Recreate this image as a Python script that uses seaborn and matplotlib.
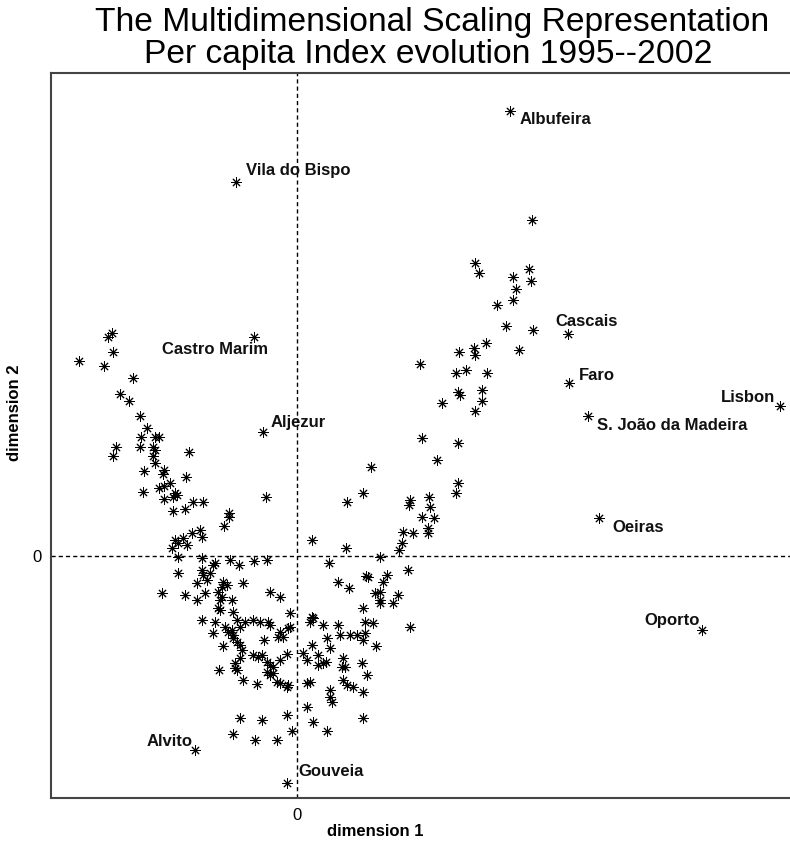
import matplotlib
matplotlib.use("Agg")
import matplotlib.pyplot as plt
import seaborn as sns
import pandas as pd

# ---------------- data (MDS coordinates) ----------------
dim1 = [
    -1.85, -1.89, -1.84, -2.18, -1.93, -1.64, -1.77, -1.68, -1.57, -1.50, -1.56, -1.42, -1.38,
    -1.81, -1.84, -1.57, -1.44, -1.42, -1.44, -1.42, -1.08, -1.53, -1.33, -1.34, -1.11, -1.54,
    -1.38, -1.33, -1.27, -1.22, -1.20, -1.24, -1.33, -1.04, -0.94, -1.24, -1.12, -0.68, -0.68,
    -0.73, -0.31, 0.15, -1.22, -1.14, -1.05, -0.97, -0.95, -1.10, -1.25, -1.19,
    -1.19, -0.95, -0.82, -0.84, -0.67, -0.58, -0.43, -0.30, -1.19, -0.95, -0.94, -0.87, -0.90,
    -1.00, -0.74, -0.70, -0.75, -0.54, -1.35, -1.12, -1.00, -0.92, -0.79, -0.75, -0.77, -0.65,
    -0.27, -0.17, -0.77, -0.79, -0.64, -0.95, -0.82, -0.72, -0.69, -0.65, -0.64, -0.60, -0.57,
    -0.52, -0.44, -0.37, -0.29, -0.27, -0.17, -0.19, -0.14, -0.07, -0.09, -0.07, -0.84, -0.74,
    -0.64, -0.60, -0.57, -0.55, -0.33, -0.44, -0.39, -0.35, -0.57, -0.62, -0.30, -0.27, -0.24,
    -0.17, -0.10, -0.78, -0.62, -0.60, -0.30, -0.27, -0.24, -0.54, -0.40, -0.20, -0.17, -0.10,
    -0.09, -0.57, -0.35, -0.10, -0.64, -0.42, -0.20, -0.05,
    0.49, 0.83, 1.02, 1.05, 0.32, 0.41, 0.52, 0.69, 0.71, 0.90, 0.86, 0.83, 0.78, 0.83, 0.83,
    1.01, 0.96, 1.11, 0.66, 0.15, 0.16, 0.13, 0.26, 0.41, 0.43, 0.30, 0.33, 0.53, 0.60, 0.68,
    0.76, 0.68, 0.66, 0.79, 1.13, 0.15, 0.06, 0.10, 0.21, 0.21, 0.26, 0.29, 0.46, 0.48, 0.45,
    0.65, 0.70, 0.46, 0.50, 0.56, 0.66, 0.33, 0.33, 0.35, 0.10, 0.13, 0.10, 0.16, 0.30, 0.66,
    2.35, 1.78, 1.82, 2.32, 2.34, 2.16, 2.19, 2.16, 2.00, 2.09, 2.36, 1.89, 1.77, 1.78, 1.62,
    2.22, 1.23, 1.59, 1.69, 1.90, 1.61, 1.63, 1.85, 1.85, 1.78, 1.45, 1.25, 1.61, 1.40, 1.61,
    1.59, 1.13, 1.12, 1.32, 1.33, 1.25, 1.37, 1.31, 1.31, 1.06, 1.16, 0.74, 0.66, 0.50,
]
dim2 = [
    2.23, 2.19, 2.04, 1.95, 1.90, 1.78, 1.62, 1.55, 1.40, 1.28, 1.19, 1.19, 1.19,
    1.09, 1.00, 1.09, 1.09, 1.06, 1.00, 0.93, 1.04, 0.85, 0.86, 0.82, 0.79, 0.64,
    0.68, 0.70, 0.73, 0.63, 0.61, 0.59, 0.57, 0.54, 0.54, 0.45, 0.47, 0.43, 0.39,
    0.30, 0.59, 0.16, 0.16, 0.18, 0.23, 0.26, 0.19, 0.11, 0.08, 0.13,
    -0.01, -0.02, -0.07, -0.09, -0.04, -0.09, -0.05, -0.04, -0.17, -0.14, -0.19, -0.17, -0.24,
    -0.27, -0.26, -0.29, -0.31, -0.27, -0.37, -0.39, -0.44, -0.37, -0.36, -0.41, -0.44, -0.44,
    -0.36, -0.41, -0.54, -0.52, -0.56, -0.64, -0.66, -0.71, -0.76, -0.74, -0.79, -0.64, -0.71,
    -0.66, -0.64, -0.66, -0.66, -0.69, -0.76, -0.81, -0.81, -0.57, -0.72, -0.71, -0.77, -0.90,
    -0.82, -0.86, -0.89, -0.94, -0.84, -0.99, -1.01, -0.99, -1.02, -1.07, -1.06, -1.09, -1.11,
    -1.04, -0.98, -1.14, -1.12, -1.14, -1.16, -1.19, -1.17, -1.24, -1.28, -1.26, -1.27, -1.31,
    -1.29, -1.62, -1.64, -1.59, -1.78, -1.84, -1.84, -1.75,
    0.08, -0.01, 0.06, 0.13, -0.07, -0.26, -0.32, -0.20, -0.21, -0.19, -0.26, -0.36, -0.37, -0.44, -0.47,
    -0.39, -0.47, -0.14, -0.52, -0.61, -0.62, -0.66, -0.69, -0.69, -0.79, -0.82, -0.92, -0.79, -0.79, -0.66,
    -0.67, -0.77, -0.84, -0.90, -0.71, -0.89, -0.97, -1.04, -0.99, -1.09, -1.07, -1.06, -1.02, -1.11, -1.11,
    -1.07, -1.19, -1.24, -1.29, -1.31, -1.36, -1.34, -1.41, -1.46, -1.27, -1.26, -1.51, -1.66, -1.75, -1.62,
    3.36, 2.93, 2.83, 2.87, 2.75, 2.79, 2.67, 2.56, 2.51, 2.30, 2.26, 2.13, 2.08, 2.01, 2.04,
    2.06, 1.92, 1.83, 1.86, 1.83, 1.64, 1.61, 1.66, 1.55, 1.45, 1.53, 1.18, 1.13, 0.96, 0.73,
    0.63, 0.56, 0.51, 0.59, 0.49, 0.39, 0.38, 0.28, 0.23, 0.24, 0.23, 0.89, 0.63, 0.54,
]

# labelled municipalities
names = ["Albufeira", "Vila do Bispo", "Castro Marim", "Aljezur", "Cascais", "Faro",
         "Lisbon", "S. João da Madeira", "Oeiras", "Oporto", "Alvito", "Gouveia"]
named_dim1 = [2.13, -0.61, -0.43, -0.34, 2.71, 2.72, 4.83, 2.91, 3.02, 4.05, -1.02, -0.10]
named_dim2 = [4.45, 3.74, 2.19, 1.24, 2.22, 1.73, 1.50, 1.40, 0.38, -0.74, -1.94, -2.27]

title_lines = ["The Multidimensional Scaling Representation",
               "Per capita Index evolution 1995--2002"]

# ---------------- label placement (pixel offsets, alignment) ----------------
label_style = {
    "Albufeira": ((10, -8), "left"),
    "Vila do Bispo": ((10, 11), "left"),
    "Castro Marim": ((14, -13), "right"),
    "Aljezur": ((8, 9), "left"),
    "Cascais": ((-13, 12), "left"),
    "Faro": ((10, 7), "left"),
    "Lisbon": ((-5, 8), "right"),
    "S. João da Madeira": ((9, -10), "left"),
    "Oeiras": ((13, -10), "left"),
    "Oporto": ((-2, 9), "right"),
    "Alvito": ((-2, 8), "right"),
    "Gouveia": ((11, 11), "left"),
}

# ---------------- plotting ----------------
sns.set_style("white")
plt.rcParams["font.family"] = ["Liberation Sans", "DejaVu Sans"]
plt.rcParams["text.color"] = "black"

W, H = 790, 844
fig = plt.figure(figsize=(W / 100, H / 100), dpi=100)
ax = fig.add_axes([51 / W, (H - 798) / H, (809 - 51) / W, (798 - 73) / H])

df = pd.DataFrame({"dim1": dim1 + named_dim1, "dim2": dim2 + named_dim2})
sns.scatterplot(data=df, x="dim1", y="dim2", marker=(8, 2, 0), color="black",
                s=46, linewidth=0.7, ax=ax, zorder=3)

ax.axhline(0, color="black", lw=1.0, ls=(0, (3, 2.2)), zorder=1)
ax.axvline(0, color="black", lw=1.0, ls=(0, (3, 2.2)), zorder=1)

for n, xv, yv in zip(names, named_dim1, named_dim2):
    (dx, dy), ha = label_style[n]
    ax.annotate(n, (xv, yv), xytext=(dx, dy), textcoords="offset pixels",
                ha=ha, va="center", fontsize=12, fontweight="bold", color="#111111")

ax.set_xlim(-2.46, 5.12)
ax.set_ylim(-2.42, 4.83)
ax.set_xticks([0])
ax.set_yticks([0])
ax.set_xticklabels(["0"], fontsize=12, color="black")
ax.set_yticklabels(["0"], fontsize=12, color="black")
ax.tick_params(length=0, pad=7)
ax.set_xlabel("")
ax.set_ylabel("")
for side in ["left", "bottom", "top"]:
    ax.spines[side].set_color("#444444")
    ax.spines[side].set_linewidth(1.5)
ax.spines["right"].set_visible(False)

fig.text(432 / W, 1 - 23 / H, title_lines[0], ha="center", va="center",
         fontsize=24.2, color="black")
fig.text(428 / W, 1 - 55 / H, title_lines[1], ha="center", va="center",
         fontsize=24.2, color="black")

fig.text(375 / W, 1 - 831 / H, "dimension 1", ha="center", va="center",
         fontsize=12, fontweight="bold", color="black")
fig.text(15 / W, 1 - 413 / H, "dimension 2", ha="center", va="center",
         fontsize=12, fontweight="bold", rotation=90, color="black")

fig.savefig("out.png", dpi=100)
